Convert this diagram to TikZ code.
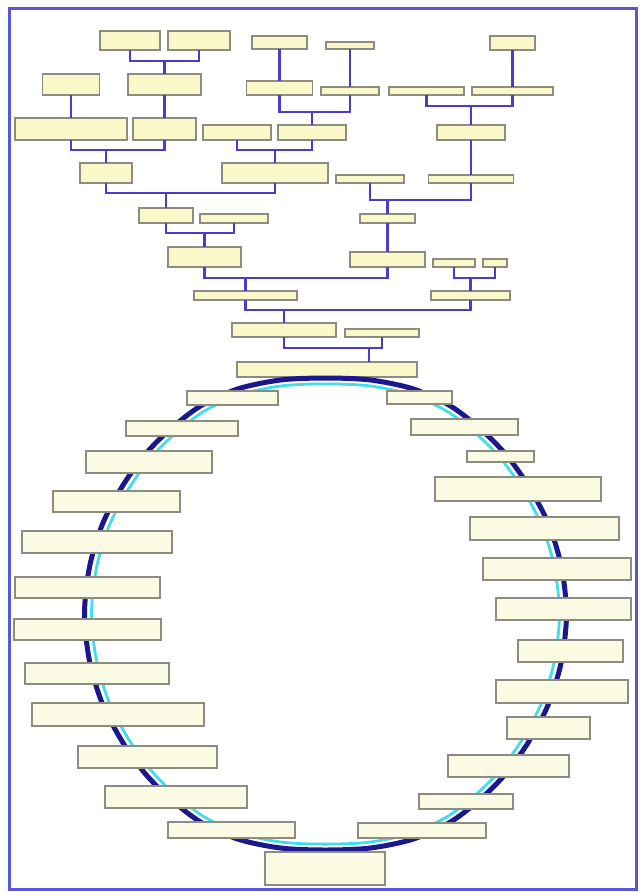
\documentclass[tikz,border=0pt]{standalone}
\usetikzlibrary{calc}
\definecolor{framecol}{RGB}{88,88,214}
\definecolor{linkcol}{RGB}{76,60,206}
\definecolor{ringdark}{RGB}{26,24,140}
\definecolor{ringcyan}{RGB}{64,222,236}
\definecolor{treefill}{RGB}{250,247,200}
\definecolor{ringfill}{RGB}{251,251,228}
\definecolor{boxline}{RGB}{140,140,128}
\begin{document}
\begin{tikzpicture}[x=1pt, y=-1pt,
  box/.style={rectangle, draw=boxline, line width=1.4pt, inner sep=0pt, outer sep=0pt},
  tbox/.style 2 args={box, fill=treefill, minimum width=#1, minimum height=#2},
  rbox/.style 2 args={box, fill=ringfill, minimum width=#1, minimum height=#2},
  link/.style={draw=linkcol, line width=2.5pt},
  frame/.style={draw=framecol, line width=3pt}
]
\useasboundingbox (0,0) rectangle (640,892);
\draw[frame] (9,8.5) rectangle (636.5,889.5);

% family tree
\node[tbox={60}{19}] (a1) at (130,40.5) {};
\node[tbox={62}{19}] (a2) at (199,40.5) {};
\node[tbox={55}{13}] (a3) at (279.5,42.5) {};
\node[tbox={48}{7}] (a4) at (350,45.5) {};
\node[tbox={45}{14}] (a5) at (512.5,43) {};
\node[tbox={57}{21}] (b1) at (71,84.5) {};
\node[tbox={73}{21}] (b2) at (164.5,84.5) {};
\node[tbox={66}{14}] (b3) at (279.5,88) {};
\node[tbox={58}{8}] (b4) at (350,91) {};
\node[tbox={75}{8}] (b5) at (426.5,91) {};
\node[tbox={81}{8}] (b6) at (512.5,91) {};
\node[tbox={112}{22}] (c1) at (71,129) {};
\node[tbox={63}{22}] (c2) at (164.5,129) {};
\node[tbox={68}{15}] (c3) at (237,132.5) {};
\node[tbox={68}{15}] (c4) at (312,132.5) {};
\node[tbox={68}{15}] (c5) at (471,132.5) {};
\node[tbox={52}{20}] (d1) at (106,173) {};
\node[tbox={106}{20}] (d2) at (275,173) {};
\node[tbox={68}{8}] (d3) at (370,179) {};
\node[tbox={85}{8}] (d4) at (471,179) {};
\node[tbox={54}{15}] (e1) at (166,215.5) {};
\node[tbox={68}{9}] (e2) at (234,218.5) {};
\node[tbox={55}{9}] (e3) at (387.5,218.5) {};
\node[tbox={73}{20}] (f1) at (204.5,257) {};
\node[tbox={75}{15}] (f2) at (387.5,259.5) {};
\node[tbox={42}{8}] (f3) at (454,263) {};
\node[tbox={24}{8}] (f4) at (495,263) {};
\node[tbox={103}{9}] (g1) at (245.5,295.5) {};
\node[tbox={79}{9}] (g2) at (470.5,295.5) {};
\node[tbox={104}{14}] (h1) at (284,330) {};
\node[tbox={74}{8}] (h2) at (382,333) {};
\node[tbox={180}{15}] (root) at (327,369.5) {};

\coordinate (ja) at (164.5,61);
\coordinate (jb) at (312,112);
\coordinate (jc) at (471,106);
\coordinate (jd) at (106,150);
\coordinate (je) at (275,150);
\coordinate (jf) at (166,193);
\coordinate (jg) at (387.5,200);
\coordinate (jh) at (204.5,233);
\coordinate (ji) at (470.5,278);
\coordinate (jk) at (245.5,278);
\coordinate (jl) at (284,310);
\coordinate (jm) at (369,348);

\draw[link] (a1.south) |- (ja) -| (a2.south);
\draw[link] (ja) -- (ja |- b2.north);
\draw[link] (a3) -- (b3);
\draw[link] (a4) -- (b4);
\draw[link] (a5) -- (b6);
\draw[link] (b3.south) |- (jb) -| (b4.south);
\draw[link] (jb) -- (jb |- c4.north);
\draw[link] (b5.south) |- (jc) -| (b6.south);
\draw[link] (jc) -- (jc |- c5.north);
\draw[link] (b1) -- (c1);
\draw[link] (b2) -- (c2);
\draw[link] (c1.south) |- (jd) -| (c2.south);
\draw[link] (jd) -- (jd |- d1.north);
\draw[link] (c3.south) |- (je) -| (c4.south);
\draw[link] (je) -- (je |- d2.north);
\draw[link] (c5) -- (d4);
\draw[link] (d1.south) |- (jf) -| (d2.south);
\draw[link] (jf) -- (jf |- e1.north);
\draw[link] (d3.south) |- (jg) -| (d4.south);
\draw[link] (jg) -- (jg |- e3.north);
\draw[link] (e1.south) |- (jh) -| (e2.south);
\draw[link] (jh) -- (jh |- f1.north);
\draw[link] (e3) -- (f2);
\draw[link] (f3.south) |- (ji) -| (f4.south);
\draw[link] (ji) -- (ji |- g2.north);
\draw[link] (f1.south) |- (jk) -| (f2.south);
\draw[link] (jk) -- (jk |- g1.north);
\draw[link] (g1.south) |- (jl) -| (g2.south);
\draw[link] (jl) -- (jl |- h1.north);
\draw[link] (h1.south) |- (jm) -| (h2.south);
\draw[link] (jm) -- (jm |- root.north);

% ring
\coordinate (ringc) at (325.5,614);
\def\ringpts{(0,-236) (-45,-234) (-88,-225) (-125,-208) (-155,-185) (-180,-160)
  (-203,-128) (-223,-90) (-236,-47) (-241,0) (-236,47) (-223,90) (-203,128)
  (-180,160) (-155,185) (-125,208) (-88,225) (-45,234) (0,236) (45,234) (88,225)
  (125,208) (155,185) (180,160) (203,128) (223,90) (236,47) (241,0) (236,-47)
  (223,-90) (203,-128) (180,-160) (155,-185) (125,-208) (88,-225) (45,-234)}
\draw[ringdark, line width=5pt, shift={(ringc)}] plot[smooth cycle] coordinates {\ringpts};
\draw[ringcyan, line width=2.8pt, shift={(ringc)}, xscale=0.971, yscale=0.975] plot[smooth cycle] coordinates {\ringpts};

\node[rbox={91}{14}] (l1) at (232.5,398) {};
\node[rbox={112}{15}] (l2) at (182,428.5) {};
\node[rbox={126}{22}] (l3) at (149,462) {};
\node[rbox={127}{21}] (l4) at (116.5,501.5) {};
\node[rbox={150}{22}] (l5) at (97,542) {};
\node[rbox={145}{21}] (l6) at (87.5,587.5) {};
\node[rbox={147}{21}] (l7) at (87.5,629.5) {};
\node[rbox={144}{21}] (l8) at (97,673.5) {};
\node[rbox={172}{23}] (l9) at (118,714.5) {};
\node[rbox={139}{22}] (l10) at (147.5,757) {};
\node[rbox={142}{22}] (l11) at (176,797) {};
\node[rbox={127}{16}] (l12) at (231.5,830) {};
\node[rbox={120}{33}] (base) at (325,868.5) {};
\node[rbox={65}{13}] (r1) at (419.5,397.5) {};
\node[rbox={107}{16}] (r2) at (464.5,427) {};
\node[rbox={67}{11}] (r3) at (500.5,456.5) {};
\node[rbox={166}{24}] (r4) at (518,489) {};
\node[rbox={149}{23}] (r5) at (544.5,528.5) {};
\node[rbox={148}{22}] (r6) at (557,569) {};
\node[rbox={135}{22}] (r7) at (563.5,609) {};
\node[rbox={105}{22}] (r8) at (570.5,651) {};
\node[rbox={132}{23}] (r9) at (562,691.5) {};
\node[rbox={83}{22}] (r10) at (548.5,728) {};
\node[rbox={121}{22}] (r11) at (508.5,766) {};
\node[rbox={94}{15}] (r12) at (466,801.5) {};
\node[rbox={128}{15}] (r13) at (422,830.5) {};
\end{tikzpicture}
\end{document}
